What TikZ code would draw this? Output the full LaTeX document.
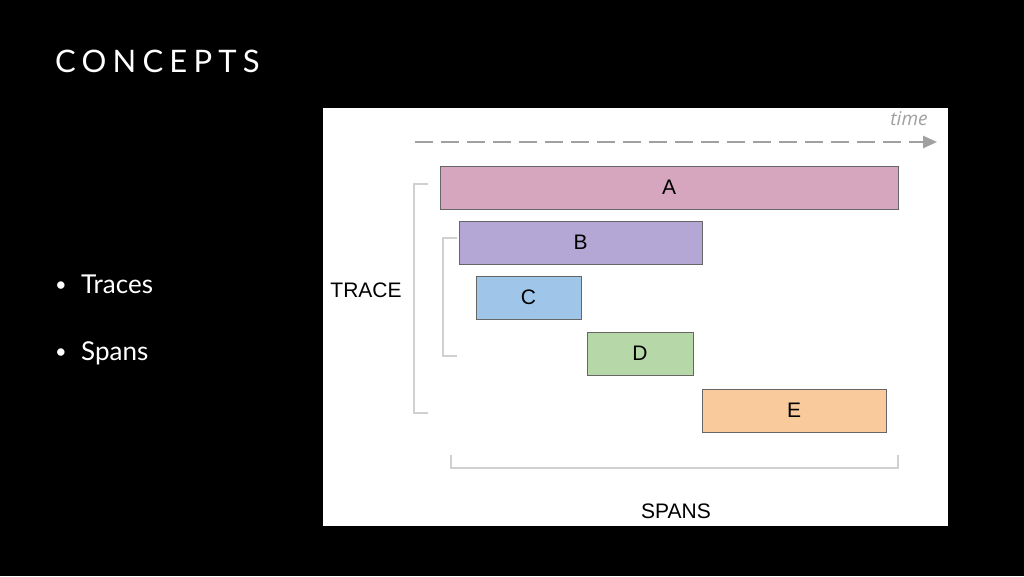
\documentclass[tikz,border=0pt]{standalone}
\usepackage{fontspec}
\usepackage{tikz}
\usepackage{xcolor}
\usetikzlibrary{
    arrows.meta,
    calc,
    positioning
}
\setmainfont{Liberation Sans}
\newfontfamily\slidefont[LetterSpace=0]{Lato}
\newfontfamily\titlefont[LetterSpace=20]{Lato}
\newfontfamily\timefont{Open Sans}

\definecolor{spanA}{HTML}{D5A6BD}
\definecolor{spanB}{HTML}{B4A7D6}
\definecolor{spanC}{HTML}{9FC5E8}
\definecolor{spanD}{HTML}{B6D7A8}
\definecolor{spanE}{HTML}{F9CB9C}
\definecolor{spanedge}{HTML}{666666}
\definecolor{bracketgray}{HTML}{D0D0D0}
\definecolor{timegray}{HTML}{A0A0A0}

\begin{document}
\begin{tikzpicture}[x=1pt, y=-1pt,
    spanbox/.style={draw=spanedge, line width=1pt, inner sep=0pt,
        font=\fontsize{21}{24}\selectfont},
    bracket/.style={draw=bracketgray, line width=1.6pt},
    slidetext/.style={text=white, inner sep=0pt, anchor=base west}]
                        % slide and white panel
                        \fill[black] (0, 0) rectangle (1024, 576);
                        \fill[white] (323, 108) rectangle (948, 526);
                        \useasboundingbox (0, 0) rectangle (1024, 576);

                        \node[slidetext, font=\titlefont\fontsize{31}{36}\selectfont] (title) at (55, 72) {CONCEPTS};
                        \node[slidetext, font=\slidefont\fontsize{20}{24}\selectfont] (dot1) at (55, 291) {\textbullet};
                        \node[slidetext, font=\slidefont\fontsize{26}{30}\selectfont] (traces) at (81, 293) {Traces};
                        \node[slidetext, font=\slidefont\fontsize{20}{24}\selectfont] (dot2) at (55, 358) {\textbullet};
                        \node[slidetext, font=\slidefont\fontsize{26}{30}\selectfont] (spans) at (81, 360) {Spans};

                        % time axis
                        \coordinate (t0) at (415, 142);
                        \coordinate (t1) at (937, 142);
                        \draw[timegray, line width=2.5pt, dash pattern=on 18pt off 8pt, -{Triangle[length=14pt, width=12pt]}] (t0) -- (t1);
                        \node[text=timegray, font=\timefont\itshape\fontsize{19}{22}\selectfont] (time) at (909, 119) {time};

                        % spans
                        \node[spanbox, fill=spanA, minimum width=458pt, minimum height=43pt] (a) at (669, 187.5) {A};
                        \node[spanbox, fill=spanB, minimum width=243pt, minimum height=43pt] (b) at (580.5, 242.5) {B};
                        \node[spanbox, fill=spanC, minimum width=105pt, minimum height=43pt] (c) at (528.5, 297.5) {C};
                        \node[spanbox, fill=spanD, minimum width=106pt, minimum height=43pt] (d) at (640, 353.5) {D};
                        \node[spanbox, fill=spanE, minimum width=184pt, minimum height=43pt] (e) at (794, 410.5) {E};

                        % brackets
                        \draw[bracket] (428, 184) -- (414, 184) -- (414, 413) -- (428, 413);
                        \draw[bracket] (457, 238) -- (443, 238) -- (443, 356) -- (457, 356);
                        \draw[bracket] (451, 455) -- (451, 468) -- (898, 468) -- (898, 455);

                        \node[font=\fontsize{21}{24}\selectfont] (trace) at (366, 290) {TRACE};
                        \node[font=\fontsize{21}{24}\selectfont] (spanlabel) at (676, 511) {SPANS};
                    \end{tikzpicture}
\end{document}
